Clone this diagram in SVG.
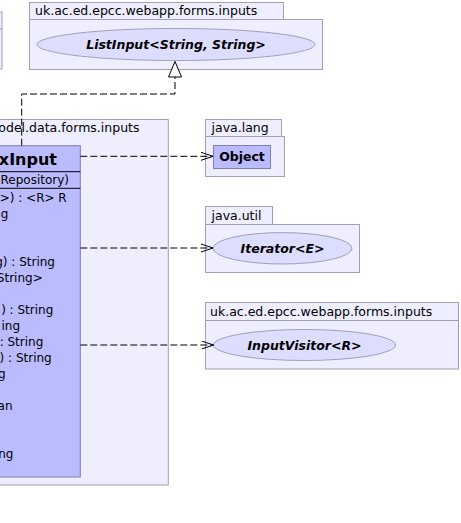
<svg xmlns="http://www.w3.org/2000/svg" width="461" height="523" viewBox="0 0 461 523">
<style>
.pkg{fill:#EEEEFF;stroke:#A0A0B8;stroke-width:1}
.cls{fill:#BBBBFF;stroke:#7F7FB0;stroke-width:1}
.ifc{fill:#DDDDFF;stroke:#A0A0B8;stroke-width:1}
.sep{stroke:#000;stroke-width:1}
.t{font-family:"DejaVu Sans","Liberation Sans",sans-serif;fill:#000}
.pn{font-size:12.5px}
.m{font-size:12px}
.bi{font-size:12.5px;font-weight:bold;font-style:italic}
.b{font-size:12.5px;font-weight:bold}
.cn{font-size:16px;font-weight:bold}
.dash{fill:none;stroke:#000;stroke-width:1;stroke-dasharray:7,3}
</style>
<defs>
<marker id="open" viewBox="0 0 12 10" refX="12" refY="5" markerWidth="12" markerHeight="10" markerUnits="userSpaceOnUse" orient="auto">
<path d="M0,1 L12,5 L0,9" fill="none" stroke="#000" stroke-width="1" stroke-dasharray="none"/>
</marker>
</defs>
<rect width="461" height="523" fill="#FFFFFF"/>

<g id="pkg-left-top">
<rect class="pkg" x="-20" y="12" width="22" height="17"/>
<rect class="pkg" x="-20" y="29" width="22" height="40"/>
</g>

<g id="pkg-webapp-forms-inputs-top">
<rect class="pkg" x="29.5" y="2.5" width="254" height="17"/>
<rect class="pkg" x="29.5" y="19.5" width="293" height="50"/>
<text class="t pn" x="35" y="15">uk.ac.ed.epcc.webapp.forms.inputs</text>
</g>
<g id="ListInput">
<ellipse class="ifc" cx="176" cy="44.5" rx="139" ry="16"/>
<text class="t bi" x="176" y="49" text-anchor="middle">ListInput&lt;String, String&gt;</text>
</g>

<g id="pkg-model-data-forms-inputs">
<rect class="pkg" x="-10" y="119.5" width="178.3" height="365.5"/>
<text class="t pn" x="139.5" y="131.7" text-anchor="end">odel.data.forms.inputs</text>
</g>

<g id="XInput">
<rect class="cls" x="-10" y="145.7" width="90.3" height="331.3"/>
<text class="t cn" x="57" y="165" text-anchor="end">xInput</text>
<line class="sep" x1="-10" y1="171.7" x2="80.3" y2="171.7"/>
<text class="t m" x="69" y="184.3" text-anchor="end">Repository)</text>
<line class="sep" x1="-10" y1="188.3" x2="80.3" y2="188.3"/>
<text class="t m" x="66.7" y="201.7" text-anchor="end">&gt;) : &lt;R&gt; R</text>
<text class="t m" x="8.3" y="217.7" text-anchor="end">g</text>
<text class="t m" x="55" y="265.7" text-anchor="end">g) : String</text>
<text class="t m" x="42.7" y="281.7" text-anchor="end">String&gt;</text>
<text class="t m" x="53.3" y="313.7" text-anchor="end">) : String</text>
<text class="t m" x="20" y="329.7" text-anchor="end">ing</text>
<text class="t m" x="43.3" y="345.7" text-anchor="end">: String</text>
<text class="t m" x="51.7" y="361.7" text-anchor="end">) : String</text>
<text class="t m" x="5.5" y="377.7" text-anchor="end">g</text>
<text class="t m" x="12.5" y="409.7" text-anchor="end">an</text>
<text class="t m" x="13.5" y="457.7" text-anchor="end">ng</text>
</g>

<g id="pkg-java-lang">
<rect class="pkg" x="205.5" y="119.5" width="76" height="17"/>
<rect class="pkg" x="205.5" y="136.5" width="79" height="40"/>
<text class="t pn" x="211.5" y="131.7">java.lang</text>
</g>
<g id="Object">
<rect class="cls" x="213.5" y="145.5" width="57" height="23"/>
<text class="t b" x="242" y="161" text-anchor="middle">Object</text>
</g>

<g id="pkg-java-util">
<rect class="pkg" x="205.5" y="206.5" width="67" height="18"/>
<rect class="pkg" x="205.5" y="224.5" width="154" height="48"/>
<text class="t pn" x="211.5" y="220">java.util</text>
</g>
<g id="Iterator">
<ellipse class="ifc" cx="282.5" cy="248.3" rx="69.5" ry="15.7"/>
<text class="t bi" x="282.5" y="252.5" text-anchor="middle">Iterator&lt;E&gt;</text>
</g>

<g id="pkg-webapp-forms-inputs-right">
<rect class="pkg" x="205.5" y="302.5" width="253" height="18"/>
<rect class="pkg" x="205.5" y="320.5" width="253" height="48.5"/>
<text class="t pn" x="210" y="316">uk.ac.ed.epcc.webapp.forms.inputs</text>
</g>
<g id="InputVisitor">
<ellipse class="ifc" cx="304.5" cy="345" rx="91" ry="15.5"/>
<text class="t bi" x="304.5" y="349.5" text-anchor="middle">InputVisitor&lt;R&gt;</text>
</g>

<g id="connectors">
<path class="dash" d="M21.7,145.7 V94 H175 V77"/>
<polygon points="175,61.5 168.5,77 181.5,77" fill="#FFFFFF" stroke="#000" stroke-width="1"/>
<path class="dash" d="M80.3,156.3 H213" marker-end="url(#open)"/>
<path class="dash" d="M80.3,248 H213" marker-end="url(#open)"/>
<path class="dash" d="M80.3,345 H213.5" marker-end="url(#open)"/>
</g>
</svg>
